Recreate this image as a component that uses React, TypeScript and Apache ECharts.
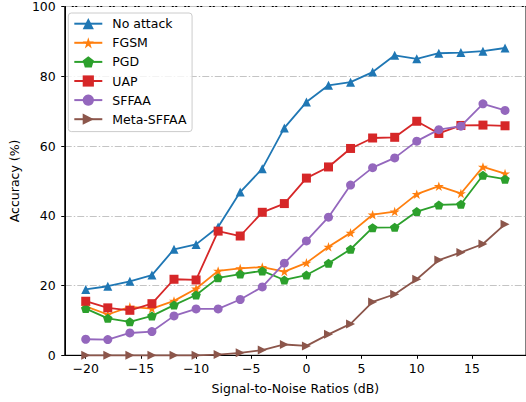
import React, { useEffect, useRef } from "react";
import * as echarts from "echarts";

const snr = [-20, -18, -16, -14, -12, -10, -8, -6, -4, -2, 0, 2, 4, 6, 8, 10, 12, 14, 16, 18];
const noAttack = [18.9, 19.8, 21.2, 23.0, 30.4, 31.8, 36.8, 46.8, 53.5, 65.2, 72.6, 77.4, 78.3, 81.2, 86.0, 85.0, 86.6, 86.8, 87.2, 88.1];
const fgsm = [14.0, 11.7, 13.9, 13.4, 15.6, 19.1, 24.2, 24.9, 25.3, 24.0, 26.5, 31.1, 35.1, 40.3, 41.2, 46.2, 48.5, 46.4, 54.0, 52.1];
const pgd = [13.4, 10.6, 9.6, 11.3, 14.4, 17.3, 22.2, 23.3, 24.2, 21.6, 23.0, 26.4, 30.4, 36.6, 36.7, 41.2, 43.1, 43.3, 51.6, 50.5];
const uap = [15.5, 13.6, 12.9, 14.8, 21.8, 21.6, 35.6, 34.2, 41.0, 43.5, 50.8, 54.0, 59.3, 62.3, 62.5, 67.1, 63.6, 65.9, 66.0, 65.8];
const sffaa = [4.6, 4.5, 6.4, 6.8, 11.3, 13.3, 13.3, 16.0, 19.6, 26.4, 32.8, 39.6, 48.8, 53.8, 56.6, 61.4, 64.7, 65.7, 72.1, 70.2];
const metaSffaa = [0, 0, 0, 0, 0, 0, 0.2, 0.7, 1.5, 3.1, 2.7, 6.0, 9.0, 15.3, 17.5, 21.8, 27.3, 29.5, 31.9, 37.6];

const xTicks = [-20, -15, -10, -5, 0, 5, 10, 15];
const seriesNames = ["No attack", "FGSM", "PGD", "UAP", "SFFAA", "Meta-SFFAA"];
const colors = ["#1f77b4", "#ff7f0e", "#2ca02c", "#d62728", "#9467bd", "#8c564b"];

const STAR =
  "path://M50 0 L61.23 34.55 L97.55 34.55 L68.16 55.9 L79.39 90.45 L50 69.1 L20.61 90.45 L31.84 55.9 L2.45 34.55 L38.77 34.55 Z";
const PENTAGON = "path://M50 0 L97.55 34.55 L79.39 90.45 L20.61 90.45 L2.45 34.55 Z";

const FONT = "DejaVu Sans";

export default function App() {
  const ref = useRef<HTMLDivElement>(null);
  useEffect(() => {
    if (!ref.current) return;
    const chart = echarts.init(ref.current, null, { renderer: "svg" });
    const all = [noAttack, fgsm, pgd, uap, sffaa, metaSffaa];
    const symbols: any[] = ["triangle", STAR, PENTAGON, "rect", "circle", "triangle"];
    const sizes: any[] = [9, [10, 9.5], [9.5, 9], 9, 9, 9];
    const rotates = [0, 0, 0, 0, 0, -90];
    chart.setOption({
      animation: false,
      textStyle: { fontFamily: FONT },
      grid: {
        left: 61.5,
        top: 6,
        width: 468.2,
        height: 349.3,
        show: true,
        borderColor: "#000",
        borderWidth: 1,
        containLabel: false,
      },
      legend: {
        orient: "vertical",
        left: 68.3,
        top: 13,
        itemWidth: 28,
        itemHeight: 14,
        itemGap: 5.1,
        padding: [3.7, 5.6, 5.4, 5],
        backgroundColor: "rgba(255,255,255,0.8)",
        borderColor: "#cccccc",
        borderWidth: 1,
        borderRadius: 3,
        selectedMode: false,
        textStyle: {
          fontFamily: FONT,
          fontSize: 12.5,
          color: "#000",
          lineHeight: 14,
          padding: [0, 0, 0, 5],
        },
        data: seriesNames,
      },
      xAxis: {
        type: "value",
        min: -21.9,
        max: 19.9,
        name: "Signal-to-Noise Ratios (dB)",
        nameLocation: "middle",
        nameGap: 27,
        nameTextStyle: { fontFamily: FONT, fontSize: 12.5, color: "#000" },
        axisLine: { show: true, onZero: false, lineStyle: { color: "#000", width: 1 } },
        axisTick: {
          show: true,
          length: 3.5,
          lineStyle: { color: "#000", width: 1 },
          customValues: xTicks,
        },
        axisLabel: {
          show: true,
          fontFamily: FONT,
          fontSize: 12.5,
          color: "#000",
          margin: 7,
          customValues: xTicks,
          formatter: (v: number) => String(v).replace("-", "\u2212"),
        },
        splitLine: { show: false },
      },
      yAxis: {
        type: "value",
        min: 0,
        max: 100,
        interval: 20,
        name: "Accuracy (%)",
        nameLocation: "middle",
        nameGap: 36,
        nameTextStyle: { fontFamily: FONT, fontSize: 12.5, color: "#000" },
        axisLine: { show: true, onZero: false, lineStyle: { color: "#000", width: 1 } },
        axisTick: { show: true, length: 3.5, lineStyle: { color: "#000", width: 1 } },
        axisLabel: { fontFamily: FONT, fontSize: 12.5, color: "#000", margin: 9 },
        splitLine: {
          show: true,
          lineStyle: { color: "#c4c4c4", width: 1, type: [7, 2, 1.5, 2] },
        },
      },
      series: all.map((vals, i) => ({
        name: seriesNames[i],
        type: "line",
        data: snr.map((x, j) => [x, vals[j]]),
        symbol: symbols[i],
        symbolSize: sizes[i],
        symbolRotate: rotates[i],
        showAllSymbol: true,
        color: colors[i],
        itemStyle: { color: colors[i], opacity: 1 },
        lineStyle: { color: colors[i], width: 1.8 },
        clip: false,
        z: 2 + i,
      })),
    });
    return () => chart.dispose();
  }, []);
  return (
    <div
      ref={ref}
      style={{ position: "absolute", left: 0, top: 0, width: 526, height: 402 }}
    />
  );
}
